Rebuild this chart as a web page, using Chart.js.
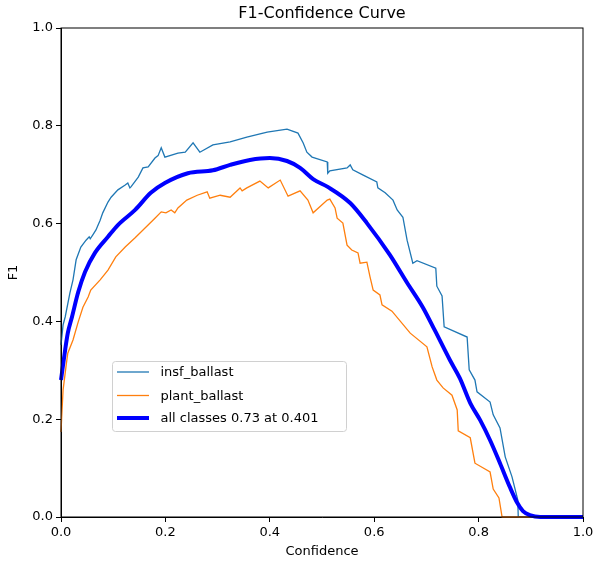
<!DOCTYPE html>
<html>
<head>
<meta charset="utf-8">
<script src="https://cdn.jsdelivr.net/npm/chart.js@4/dist/chart.umd.min.js"></script>
<style>
    html, body { margin: 0; padding: 0; background: #fff; }
    #wrap { width: 595px; height: 561px; }
</style>
</head>
<body>
<div id="wrap"><canvas id="chart" width="595" height="561"></canvas></div>
<script>
// curva F1 de la clase insf_ballast
const insfX = [0, 0.004, 0.008, 0.017, 0.023, 0.029, 0.038, 0.048, 0.054, 0.056, 0.061, 0.067, 0.075, 0.080, 0.090, 0.096, 0.109, 0.123, 0.128, 0.132, 0.134, 0.148, 0.157, 0.167, 0.180, 0.186, 0.192, 0.199, 0.224, 0.238, 0.253, 0.266, 0.291, 0.324, 0.356, 0.395, 0.433, 0.454, 0.464, 0.471, 0.481, 0.510, 0.511, 0.515, 0.548, 0.554, 0.559, 0.579, 0.605, 0.607, 0.621, 0.636, 0.644, 0.655, 0.663, 0.674, 0.682, 0.718, 0.720, 0.730, 0.734, 0.778, 0.782, 0.793, 0.797, 0.822, 0.828, 0.841, 0.851, 0.864, 0.875, 0.876, 1.0];
const insfY = [0.352, 0.393, 0.409, 0.458, 0.485, 0.526, 0.552, 0.566, 0.573, 0.569, 0.577, 0.587, 0.607, 0.622, 0.644, 0.654, 0.669, 0.679, 0.683, 0.673, 0.675, 0.695, 0.714, 0.716, 0.734, 0.739, 0.755, 0.736, 0.744, 0.746, 0.765, 0.746, 0.761, 0.767, 0.777, 0.787, 0.793, 0.785, 0.765, 0.746, 0.736, 0.726, 0.703, 0.708, 0.714, 0.720, 0.710, 0.699, 0.685, 0.673, 0.663, 0.648, 0.628, 0.613, 0.566, 0.519, 0.524, 0.509, 0.472, 0.452, 0.389, 0.368, 0.301, 0.280, 0.256, 0.235, 0.209, 0.182, 0.123, 0.082, 0.035, 0.0, 0.0];

// curva F1 de la clase plant_ballast
const plantX = [0, 0.002, 0.004, 0.010, 0.013, 0.023, 0.033, 0.042, 0.052, 0.057, 0.075, 0.090, 0.105, 0.123, 0.142, 0.161, 0.180, 0.192, 0.201, 0.211, 0.218, 0.224, 0.241, 0.261, 0.280, 0.285, 0.305, 0.324, 0.343, 0.347, 0.356, 0.381, 0.397, 0.420, 0.435, 0.458, 0.473, 0.483, 0.510, 0.515, 0.525, 0.529, 0.540, 0.548, 0.557, 0.569, 0.573, 0.586, 0.592, 0.598, 0.611, 0.615, 0.634, 0.669, 0.701, 0.711, 0.720, 0.732, 0.749, 0.759, 0.761, 0.784, 0.793, 0.822, 0.828, 0.839, 0.845, 1.0];
const plantY = [0.174, 0.219, 0.260, 0.311, 0.335, 0.362, 0.399, 0.429, 0.450, 0.464, 0.485, 0.505, 0.532, 0.552, 0.571, 0.591, 0.611, 0.624, 0.622, 0.628, 0.622, 0.632, 0.648, 0.658, 0.665, 0.652, 0.658, 0.654, 0.673, 0.667, 0.673, 0.687, 0.673, 0.689, 0.656, 0.667, 0.648, 0.622, 0.648, 0.650, 0.632, 0.611, 0.601, 0.556, 0.546, 0.540, 0.519, 0.521, 0.491, 0.464, 0.454, 0.434, 0.421, 0.376, 0.348, 0.307, 0.280, 0.264, 0.249, 0.219, 0.176, 0.162, 0.110, 0.092, 0.057, 0.039, 0.0, 0.0];

// curva de todas las clases
const allX = [0, 0.008, 0.013, 0.021, 0.033, 0.046, 0.065, 0.090, 0.109, 0.142, 0.172, 0.199, 0.243, 0.291, 0.324, 0.362, 0.400, 0.433, 0.458, 0.483, 0.511, 0.554, 0.586, 0.630, 0.663, 0.693, 0.716, 0.745, 0.764, 0.784, 0.803, 0.822, 0.841, 0.860, 0.874, 0.885, 0.898, 0.918, 1.0];
const allY = [0.280, 0.342, 0.376, 0.409, 0.460, 0.501, 0.540, 0.573, 0.597, 0.628, 0.663, 0.683, 0.703, 0.709, 0.720, 0.730, 0.734, 0.728, 0.714, 0.691, 0.675, 0.642, 0.601, 0.536, 0.479, 0.429, 0.382, 0.321, 0.284, 0.233, 0.198, 0.157, 0.110, 0.061, 0.029, 0.012, 0.004, 0.0, 0.0];

const axisTicks = [0, 0.2, 0.4, 0.6, 0.8, 1.0];
const FONT = 'DejaVu Sans';

function puntos(xs, ys) {
    return xs.map((x, i) => ({ x: x, y: ys[i] }));
}

// titulo centrado sobre el area del grafico, caja y leyenda interna
const marcoPlugin = {
    id: 'marco',
    afterDraw(chart) {
        const { ctx, chartArea } = chart;
        ctx.save();
        ctx.strokeStyle = '#000';
        ctx.lineWidth = 1;
        ctx.strokeRect(chartArea.left, chartArea.top, chartArea.right - chartArea.left, chartArea.bottom - chartArea.top);

        ctx.fillStyle = '#000';
        ctx.font = '16px "' + FONT + '"';
        ctx.textAlign = 'center';
        ctx.textBaseline = 'middle';
        ctx.fillText('F1-Confidence Curve', (chartArea.left + chartArea.right) / 2, 14);

        // leyenda
        const bx = 112.5, by = 361.5, bw = 234, bh = 70;
        ctx.beginPath();
        ctx.roundRect(bx, by, bw, bh, 3);
        ctx.fillStyle = 'rgba(255,255,255,0.8)';
        ctx.fill();
        ctx.strokeStyle = '#d0d0d0';
        ctx.stroke();

        const rows = [372, 395.5, 418];
        ctx.font = '13px "' + FONT + '"';
        ctx.textAlign = 'left';
        chart.data.datasets.forEach((ds, i) => {
            ctx.beginPath();
            ctx.strokeStyle = ds.borderColor;
            ctx.lineWidth = ds.borderWidth;
            ctx.moveTo(117, rows[i]);
            ctx.lineTo(149, rows[i]);
            ctx.stroke();
            ctx.fillStyle = '#000';
            ctx.fillText(ds.label, 160.5, rows[i] + 1);
        });
        ctx.restore();
    }
};

const ctx = document.getElementById('chart').getContext('2d');
new Chart(ctx, {
    type: 'line',
    data: {
        datasets: [
            {
                label: 'insf_ballast',
                data: puntos(insfX, insfY),
                borderColor: '#1f77b4',
                borderWidth: 1.3,
                pointRadius: 0,
                tension: 0,
                clip: false,
                order: 3
            },
            {
                label: 'plant_ballast',
                data: puntos(plantX, plantY),
                borderColor: '#ff7f0e',
                borderWidth: 1.3,
                pointRadius: 0,
                tension: 0,
                clip: false,
                order: 2
            },
            {
                label: 'all classes 0.73 at 0.401',
                data: puntos(allX, allY),
                borderColor: '#0000ff',
                borderWidth: 4,
                pointRadius: 0,
                cubicInterpolationMode: 'monotone',
                clip: false,
                order: 1
            }
        ]
    },
    options: {
        responsive: false,
        animation: false,
        layout: { padding: { top: 28, right: 12, left: 0, bottom: 0 } },
        plugins: {
            legend: { display: false },
            tooltip: { enabled: false },
            title: { display: false }
        },
        scales: {
            x: {
                type: 'linear',
                min: 0,
                max: 1,
                afterBuildTicks: (axis) => { axis.ticks = axisTicks.map(v => ({ value: v })); },
                afterFit: (axis) => {
                    axis.height = 44;
                    axis.paddingLeft = 0;
                    axis.paddingRight = 0;
                },
                grid: { drawOnChartArea: false, drawTicks: true, tickLength: 5, color: '#000' },
                border: { display: true, color: '#000' },
                ticks: {
                    color: '#000',
                    padding: 3,
                    maxRotation: 0,
                    font: { family: FONT, size: 13 },
                    callback: (v) => v.toFixed(1)
                },
                title: {
                    display: true,
                    text: 'Confidence',
                    color: '#000',
                    font: { family: FONT, size: 13 },
                    padding: { top: 0, bottom: 2 }
                }
            },
            y: {
                type: 'linear',
                min: 0,
                max: 1,
                afterBuildTicks: (axis) => { axis.ticks = axisTicks.map(v => ({ value: v })); },
                afterFit: (axis) => {
                    axis.width = 61;
                    axis.paddingTop = 0;
                    axis.paddingBottom = 0;
                },
                grid: { drawOnChartArea: false, drawTicks: true, tickLength: 5, color: '#000' },
                border: { display: true, color: '#000' },
                ticks: {
                    color: '#000',
                    padding: 3,
                    font: { family: FONT, size: 13 },
                    callback: (v) => v.toFixed(1)
                },
                title: {
                    display: true,
                    text: 'F1',
                    color: '#000',
                    font: { family: FONT, size: 13 },
                    padding: { top: 6, bottom: 0 }
                }
            }
        }
    },
    plugins: [marcoPlugin]
});
</script>
</body>
</html>
